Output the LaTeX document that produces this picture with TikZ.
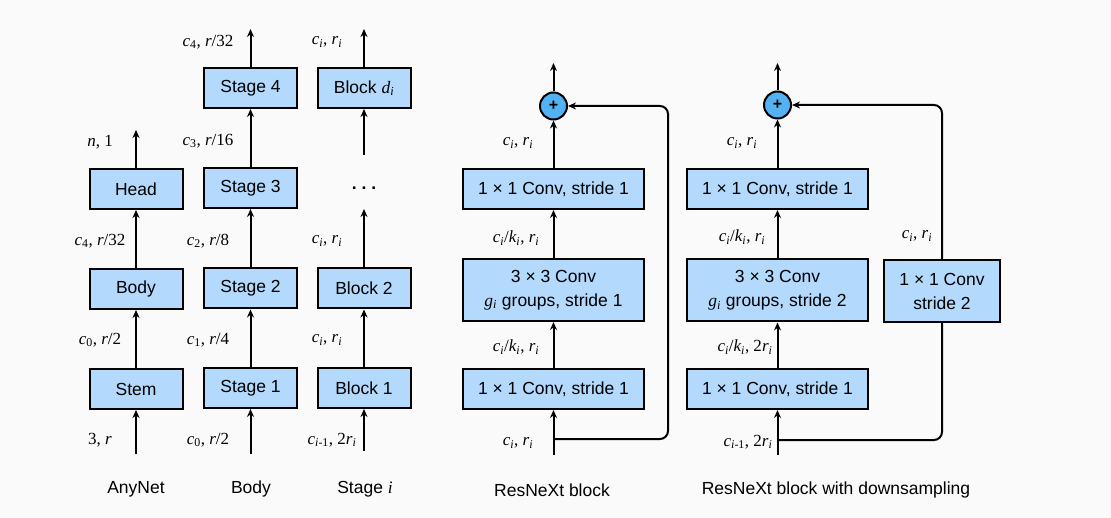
\documentclass[tikz,border=0pt]{standalone}
\usepackage{fontspec}
\setmainfont{Liberation Serif}
\setsansfont{Liberation Sans}
\usetikzlibrary{arrows.meta}
\definecolor{boxblue}{HTML}{B3D9FC}
\definecolor{plusblue}{HTML}{55B2F2}
\definecolor{bgcol}{HTML}{FAFAFA}
\newcommand\vv[1]{{\rmfamily\itshape #1}}
\newcommand\vs[2]{{\rmfamily\itshape #1\textsubscript{#2}}}
\begin{document}
\begin{tikzpicture}[x=1pt,y=-1pt,
  box/.style={draw, line width=2pt, fill=boxblue, inner sep=0pt, font=\sffamily\fontsize{17.5}{24}\selectfont, align=center},
  sbox/.style={box, minimum width=93pt, minimum height=40pt},
  wbox/.style={box, minimum width=181pt, minimum height=40pt},
  tbox/.style={box, minimum width=181pt, minimum height=62pt},
  plusnode/.style={circle, draw, line width=2pt, fill=plusblue, minimum size=27pt, inner sep=0pt, font=\sffamily\bfseries\fontsize{16}{16}\selectfont},
  arr/.style={line width=2pt, -{Stealth[length=8pt,width=7pt]}},
  ln/.style={line width=2pt},
  lbl/.style={inner sep=0pt, font=\rmfamily\fontsize{17}{20}\selectfont},
  captxt/.style={inner sep=0pt, font=\sffamily\fontsize{17.5}{21}\selectfont}]
\fill[bgcol] (0,0) rectangle (1111,518);
\useasboundingbox (0,0) rectangle (1111,518);

% ---------- AnyNet column
\node[sbox] (head) at (136,189) {Head};
\node[sbox] (body) at (136,289) {Body};
\node[sbox] (stem) at (136,389) {Stem};
\coordinate (a0) at (136,454);
\coordinate (a4) at (136,130);
\draw[arr] (a0) -- (stem);
\draw[arr] (stem) -- (body);
\draw[arr] (body) -- (head);
\draw[arr] (head) -- (a4);
\node[lbl] (la1) at (100,142) {\vv{n}, 1};
\node[lbl] (la2) at (100,241) {\vs{c}{\textup{4}}, \vv{r}/32};
\node[lbl] (la3) at (100,340) {\vs{c}{\textup{0}}, \vv{r}/2};
\node[lbl] (la4) at (100,440) {3, \vv{r}};
\node[captxt] (capa) at (136,489) {AnyNet};

% ---------- Body column
\node[sbox] (s4) at (250.5,88) {Stage 4};
\node[sbox] (s3) at (250.5,188) {Stage 3};
\node[sbox] (s2) at (250.5,288.5) {Stage 2};
\node[sbox] (s1) at (250.5,388) {Stage 1};
\coordinate (b0) at (250.5,454);
\coordinate (b5) at (250.5,29);
\draw[arr] (b0) -- (s1);
\draw[arr] (s1) -- (s2);
\draw[arr] (s2) -- (s3);
\draw[arr] (s3) -- (s4);
\draw[arr] (s4) -- (b5);
\node[lbl] (lb1) at (208,42) {\vs{c}{\textup{4}}, \vv{r}/32};
\node[lbl] (lb2) at (208,141) {\vs{c}{\textup{3}}, \vv{r}/16};
\node[lbl] (lb3) at (208,241) {\vs{c}{\textup{2}}, \vv{r}/8};
\node[lbl] (lb4) at (208,340) {\vs{c}{\textup{1}}, \vv{r}/4};
\node[lbl] (lb5) at (208,440) {\vs{c}{\textup{0}}, \vv{r}/2};
\node[captxt] (capb) at (251,489) {Body};

% ---------- Stage i column
\node[sbox] (bd) at (364,88) {Block \vs{d}{i}};
\node[inner sep=0pt, font=\sffamily\bfseries\fontsize{17.5}{20}\selectfont] (dots) at (364,188) {.\ .\ .};
\node[sbox] (bk2) at (364,288.5) {Block 2};
\node[sbox] (bk1) at (364,388) {Block 1};
\coordinate (c0) at (364,451);
\coordinate (c2) at (364,209);
\coordinate (c3) at (364,155);
\coordinate (c5) at (364,29);
\draw[arr] (c0) -- (bk1);
\draw[arr] (bk1) -- (bk2);
\draw[arr] (bk2) -- (c2);
\draw[arr] (c3) -- (bd);
\draw[arr] (bd) -- (c5);
\node[lbl] (lc1) at (327,42) {\vs{c}{i}, \vs{r}{i}};
\node[lbl] (lc2) at (327,241) {\vs{c}{i}, \vs{r}{i}};
\node[lbl] (lc3) at (327,340) {\vs{c}{i}, \vs{r}{i}};
\node[lbl] (lc4) at (332,440) {\vs{c}{i\textup{-1}}, 2\vs{r}{i}};
\node[captxt] (capc) at (365,489) {Stage \vv{i}};

% ---------- ResNeXt block
\node[wbox] (r3) at (553.5,189) {1 × 1 Conv, stride 1};
\node[tbox] (r2) at (553.5,290) {3 × 3 Conv\\\vs{g}{i} groups, stride 1};
\node[wbox] (r1) at (553.5,389) {1 × 1 Conv, stride 1};
\node[plusnode] (rp) at (553.5,106) {+};
\coordinate (rin) at (553.5,455);
\coordinate (rout) at (553.5,63);
\coordinate (rs) at (553.5,439);
\coordinate (rc) at (668,106);
\draw[arr] (rin) -- (r1);
\draw[arr] (r1) -- (r2);
\draw[arr] (r2) -- (r3);
\draw[arr] (r3) -- (rp);
\draw[arr] (rp) -- (rout);
\draw[arr, rounded corners=8pt] (rs) -| (rc) -- (rp.east);
\node[lbl] (lr1) at (518,143) {\vs{c}{i}, \vs{r}{i}};
\node[lbl] (lr2) at (516,238) {\vs{c}{i}/\vs{k}{i}, \vs{r}{i}};
\node[lbl] (lr3) at (516,347) {\vs{c}{i}/\vs{k}{i}, \vs{r}{i}};
\node[lbl] (lr4) at (518,443) {\vs{c}{i}, \vs{r}{i}};
\node[captxt] (capr) at (552,490) {ResNeXt block};

% ---------- ResNeXt block with downsampling
\node[wbox] (d3) at (777.5,189) {1 × 1 Conv, stride 1};
\node[tbox] (d2) at (777.5,290.5) {3 × 3 Conv\\\vs{g}{i} groups, stride 2};
\node[wbox] (d1) at (777.5,389) {1 × 1 Conv, stride 1};
\node[box, minimum width=116pt, minimum height=62pt] (ds) at (942,291) {1 × 1 Conv\\stride 2};
\node[plusnode] (dp) at (777.5,105) {+};
\coordinate (din) at (777.5,455);
\coordinate (dout) at (777.5,63);
\coordinate (dsk) at (777.5,440);
\draw[arr] (din) -- (d1);
\draw[arr] (d1) -- (d2);
\draw[arr] (d2) -- (d3);
\draw[arr] (d3) -- (dp);
\draw[arr] (dp) -- (dout);
\draw[ln, rounded corners=8pt] (dsk) -| (ds.south);
\draw[arr, rounded corners=8pt] (ds.north) |- (dp.east);
\node[lbl] (ld1) at (742,143) {\vs{c}{i}, \vs{r}{i}};
\node[lbl] (ld2) at (742,237) {\vs{c}{i}/\vs{k}{i}, \vs{r}{i}};
\node[lbl] (ld3) at (745,347) {\vs{c}{i}/\vs{k}{i}, 2\vs{r}{i}};
\node[lbl] (ld4) at (748,442) {\vs{c}{i\textup{-1}}, 2\vs{r}{i}};
\node[lbl] (ld5) at (917,236) {\vs{c}{i}, \vs{r}{i}};
\node[captxt] (capd) at (836,490) {ResNeXt block with downsampling};
\end{tikzpicture}
\end{document}
